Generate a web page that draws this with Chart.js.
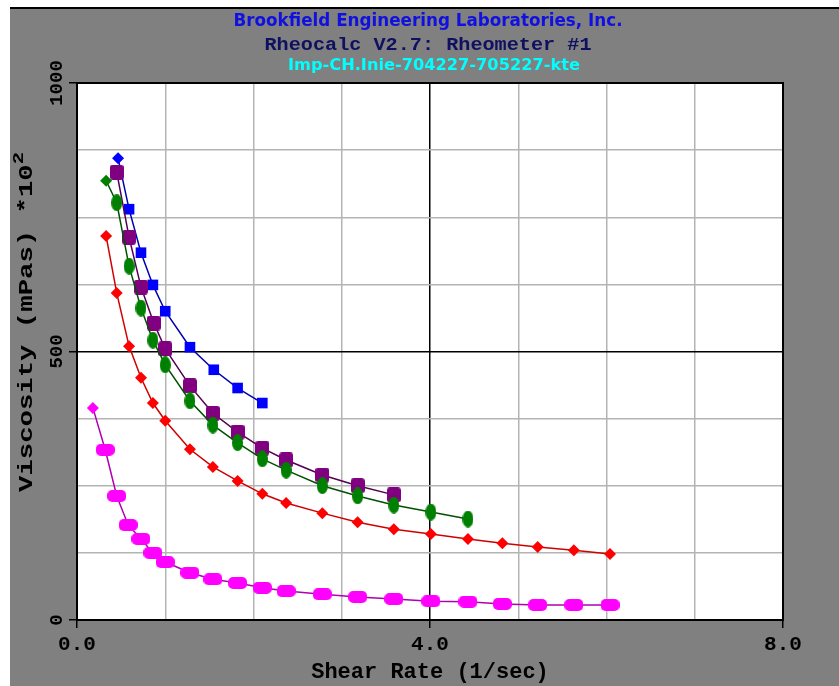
<!DOCTYPE html>
<html>
<head>
<meta charset="utf-8">
<script src="https://cdn.jsdelivr.net/npm/chart.js@4"></script>
<style>
  body { margin: 0; background: #fff; }
  #wrap { width: 839px; height: 686px; }
</style>
</head>
<body>
<div id="wrap"><canvas id="chart" width="839" height="686"></canvas></div>
<script>
// shear rate (1/sec) and viscosity (mPas *10^2) per run
const blueRate = [0.465, 0.59, 0.725, 0.86, 1.0, 1.28, 1.55, 1.82, 2.10];
const blueVisc = [860, 765, 684, 624, 575, 508, 466, 432, 404];

const purpleRate = [0.45, 0.59, 0.725, 0.87, 1.0, 1.28, 1.54, 1.82, 2.10, 2.37, 2.78, 3.18, 3.59];
const purpleVisc = [834, 713, 620, 553, 505, 436, 385, 350, 320, 298, 270, 250, 233];

const greenRate = [0.33, 0.45, 0.59, 0.725, 0.86, 1.0, 1.28, 1.54, 1.82, 2.10, 2.37, 2.78, 3.18, 3.59, 4.01, 4.43];
const greenVisc = [818, 777, 659, 581, 521, 475, 408, 363, 330, 300, 279, 250, 231, 214, 201, 188];

const redRate = [0.33, 0.45, 0.59, 0.725, 0.86, 1.0, 1.28, 1.54, 1.82, 2.10, 2.37, 2.78, 3.18, 3.59, 4.01, 4.43, 4.82, 5.22, 5.63, 6.04];
const redVisc = [715, 609, 510, 451, 404, 371, 318, 285, 259, 235, 218, 199, 182, 169, 160, 151, 143, 136, 130, 123];

const pinkRate = [0.18, 0.32, 0.45, 0.58, 0.725, 0.86, 1.0, 1.28, 1.54, 1.82, 2.10, 2.37, 2.78, 3.18, 3.59, 4.01, 4.43, 4.82, 5.22, 5.63, 6.04];
const pinkVisc = [395, 317, 231, 177, 151, 125, 108, 88, 76, 69, 60, 54, 48, 43, 39, 35, 34, 30, 28, 28, 28];

const titleLines = ['Brookfield Engineering Laboratories, Inc.', 'Rheocalc V2.7: Rheometer #1', 'Imp-CH.Inie-704227-705227-kte'];
const xTickLabels = [0, 4, 8];
const yTickLabels = [0, 500, 1000];
const xTitle = 'Shear Rate (1/sec)';
const yTitle = 'Viscosity (mPas) *10';

const toPoints = (xs, ys) => xs.map((x, i) => ({ x: x, y: ys[i] }));

// little canvases used as marker shapes
const makeMarker = (w, h, color, draw) => {
    const c = document.createElement('canvas');
    c.width = w; c.height = h;
    const g = c.getContext('2d');
    g.fillStyle = color;
    draw(g, w, h);
    return c;
};
const pillMarker = makeMarker(19, 12, '#ff00ff', (g, w, h) => { g.beginPath(); g.roundRect(0, 0, w, h, 5); g.fill(); });
const ovalMarker = makeMarker(11, 17, '#008000', (g, w, h) => { g.beginPath(); g.ellipse(w / 2, h / 2, w / 2, h / 2, 0, 0, Math.PI * 2); g.fill(); });
const purpleMarker = makeMarker(14, 15, '#800080', (g, w, h) => { g.beginPath(); g.roundRect(0, 0, w, h, 3); g.fill(); });

const firstDiamond = (style) => (ctx) => ctx.dataIndex === 0 ? 'rectRot' : style;

const frame = {
    id: 'frame',
    beforeDraw(chart) {
        const { ctx, chartArea: a } = chart;
        ctx.save();
        ctx.fillStyle = '#fff';
        ctx.fillRect(0, 0, chart.width, chart.height);
        ctx.fillStyle = '#808080';
        ctx.fillRect(10, 9, chart.width - 10, chart.height - 9);
        ctx.fillStyle = '#000';
        ctx.fillRect(10, 7, chart.width - 10, 2);
        ctx.fillStyle = '#fff';
        ctx.fillRect(a.left, a.top, a.right - a.left, a.bottom - a.top);
        ctx.restore();
    },
    afterDraw(chart) {
        const { ctx, chartArea: a, scales } = chart;
        ctx.save();
        ctx.strokeStyle = '#000';
        ctx.lineWidth = 2;
        ctx.strokeRect(a.left, a.top, a.right - a.left, a.bottom - a.top);

        // fit text to a width by squeezing / stretching horizontally
        const fitText = (txt, cx, cy, width, font, color) => {
            ctx.font = font;
            ctx.fillStyle = color;
            ctx.textAlign = 'center';
            ctx.textBaseline = 'middle';
            const w = ctx.measureText(txt).width;
            ctx.save();
            ctx.translate(cx, cy);
            ctx.scale(width / w, 1);
            ctx.fillText(txt, 0, 0);
            ctx.restore();
        };
        const narrow = '"Liberation Sans Narrow", "DejaVu Sans Condensed", "Liberation Sans", sans-serif';
        fitText(titleLines[0], 428, 22, 389, 'bold 17px ' + narrow, '#1010e0');
        fitText(titleLines[1], 428, 45, 327, 'bold 18px "Liberation Mono", "DejaVu Sans Mono", monospace', '#101060');
        fitText(titleLines[2], 434, 66, 292, 'bold 16px ' + narrow, '#00ffff');

        // y tick labels, turned like the original
        const y = scales.y;
        yTickLabels.forEach(v => {
            ctx.save();
            ctx.translate(57, y.getPixelForValue(v));
            ctx.rotate(-Math.PI / 2);
            ctx.font = 'bold 19px "Liberation Mono", monospace';
            ctx.fillStyle = '#000';
            ctx.textAlign = 'center';
            ctx.textBaseline = 'middle';
            ctx.fillText(String(v), 0, 0);
            ctx.restore();
        });

        // y axis title with superscript
        ctx.save();
        ctx.translate(27, 322);
        ctx.rotate(-Math.PI / 2);
        ctx.font = 'bold 20px "Liberation Mono", monospace';
        ctx.fillStyle = '#000';
        ctx.textBaseline = 'middle';
        const mainW = ctx.measureText(yTitle).width;
        ctx.font = 'bold 15px "Liberation Mono", monospace';
        const supW = ctx.measureText('2').width;
        const total = mainW + supW;
        const sx = 340 / total;
        ctx.scale(sx, 1);
        ctx.textAlign = 'left';
        ctx.font = 'bold 20px "Liberation Mono", monospace';
        ctx.fillText(yTitle, -total / 2, 0);
        ctx.font = 'bold 15px "Liberation Mono", monospace';
        ctx.fillText('2', -total / 2 + mainW, -8);
        ctx.restore();

        ctx.restore();
    }
};

const series = (rate, visc, color, lineColor, style, radius, firstIsDiamond) => ({
    data: toPoints(rate, visc),
    showLine: true,
    borderColor: lineColor,
    backgroundColor: color,
    borderWidth: 1.5,
    pointStyle: firstIsDiamond ? firstDiamond(style) : style,
    pointRadius: (c) => firstIsDiamond && c.dataIndex === 0 ? 6 : radius,
    pointBorderWidth: 0,
    pointHoverRadius: radius
});

new Chart(document.getElementById('chart'), {
    type: 'scatter',
    data: {
        datasets: [
            series(pinkRate, pinkVisc, '#ff00ff', '#b000b0', pillMarker, 6, true),
            series(redRate, redVisc, '#ff0000', '#d00000', 'rectRot', 6, true),
            series(greenRate, greenVisc, '#008000', '#005000', ovalMarker, 6, true),
            series(purpleRate, purpleVisc, '#800080', '#500050', purpleMarker, 6, false),
            series(blueRate, blueVisc, '#0000ff', '#0000b0', 'rect', 7.5, true)
        ]
    },
    options: {
        responsive: false,
        animation: false,
        layout: { padding: { top: 83, right: 56, left: 0, bottom: 0 } },
        scales: {
            x: {
                type: 'linear',
                min: 0,
                max: 8,
                afterFit: (s) => { s.height = 66; },
                ticks: {
                    stepSize: 1,
                    autoSkip: false,
                    maxRotation: 0,
                    padding: 4,
                    color: '#000',
                    font: { family: '"Liberation Mono", monospace', size: 21, weight: 'bold' },
                    callback: (v) => xTickLabels.includes(v) ? v.toFixed(1) : ''
                },
                grid: {
                    color: (c) => c.tick && c.tick.value === 4 ? '#000' : '#b4b4b4',
                    lineWidth: 1.5,
                    tickLength: 8,
                    tickColor: (c) => c.tick && xTickLabels.includes(c.tick.value) ? '#000' : 'rgba(0,0,0,0)'
                },
                border: { color: '#000', width: 2 },
                title: {
                    display: true,
                    text: xTitle,
                    color: '#000',
                    padding: { top: 0, bottom: 0 },
                    font: { family: '"Liberation Mono", monospace', size: 22, weight: 'bold' }
                }
            },
            y: {
                min: 0,
                max: 1000,
                afterFit: (s) => { s.width = 77; },
                ticks: { stepSize: 125, display: false },
                grid: {
                    color: (c) => c.tick && c.tick.value === 500 ? '#000' : '#b4b4b4',
                    lineWidth: 1.5,
                    tickLength: 8,
                    tickColor: (c) => c.tick && yTickLabels.includes(c.tick.value) ? '#000' : 'rgba(0,0,0,0)'
                },
                border: { color: '#000', width: 2 }
            }
        },
        plugins: {
            legend: { display: false },
            tooltip: { enabled: false }
        }
    },
    plugins: [frame]
});
</script>
</body>
</html>
